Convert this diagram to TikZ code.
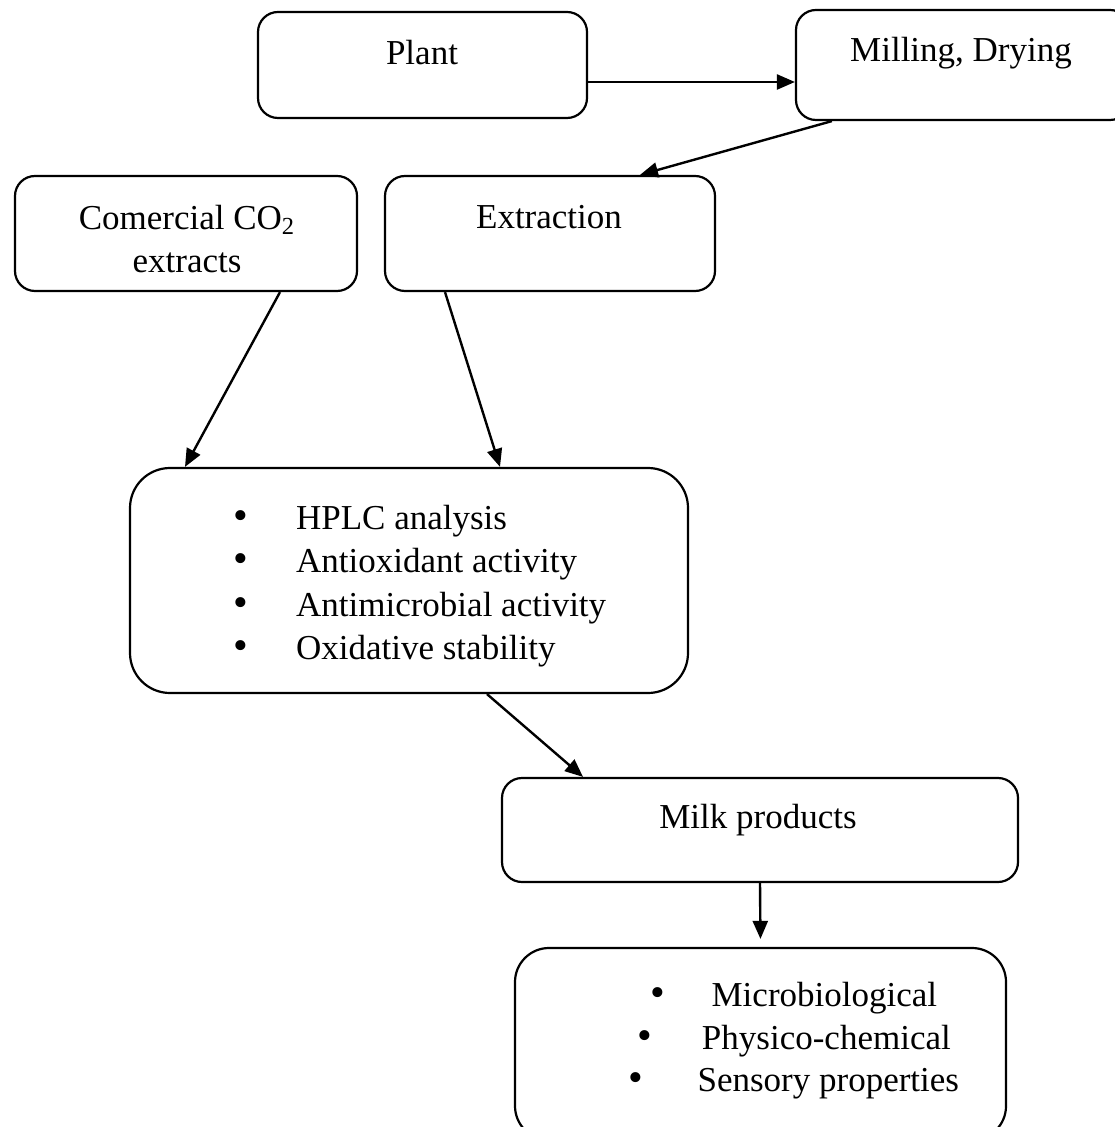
\documentclass[tikz,border=0pt]{standalone}
\usepackage{fontspec}
\setmainfont{Liberation Serif}
\usetikzlibrary{positioning,arrows.meta}

\newcommand{\bigbul}{{\fontsize{21}{21}\selectfont\textbullet}}

\begin{document}
\begin{tikzpicture}[x=0.5pt,y=-0.5pt,>={Triangle[length=9pt,width=7.5pt]}]
	\tikzstyle{every node}=[font=\fontsize{17.5}{21.5}\selectfont,inner sep=0pt]
	\tikzstyle{box}=[draw,line width=1.1pt,rounded corners=10pt]
	\tikzstyle{arr}=[->,line width=1.2pt]
	\useasboundingbox (0,0) rectangle (1114,1127);
	% boxes
	\node[box,minimum width=164.5pt,minimum height=53pt] (plant) at (422.5,65) {};
	\node[box,minimum width=167pt,minimum height=55pt] (mill) at (963,65) {};
	\node[box,minimum width=171pt,minimum height=57.5pt] (co2) at (186,233.5) {};
	\node[box,minimum width=165pt,minimum height=57.5pt] (extr) at (550,233.5) {};
	\node[box,rounded corners=20pt,minimum width=279pt,minimum height=112.5pt] (anal) at (409,580.5) {};
	\node[box,minimum width=258pt,minimum height=52pt] (milk) at (760,830) {};
	\node[box,rounded corners=17pt,minimum width=245.5pt,minimum height=96pt] (tests) at (760.5,1044) {};
	% texts
	\node (plantlbl) at (422,53) {Plant};
	\node (milllbl) at (961,53) {Milling, Drying};
	\node[align=center] (co2lbl) at (187,239) {Comercial CO\textsubscript{2}\\extracts};
	\node (extrlbl) at (549,217) {Extraction};
	\node[align=left,anchor=west,font=\fontsize{17.5}{21.7}\selectfont] (anallbl) at (233,586) {%
		\bigbul\hspace{24pt}HPLC analysis\\
		\bigbul\hspace{24pt}Antioxidant activity\\
		\bigbul\hspace{24pt}Antimicrobial activity\\
		\bigbul\hspace{24pt}Oxidative stability};
	\node (milklbl) at (758,820) {Milk products};
	\node[align=center,font=\fontsize{17.5}{21.3}\selectfont] (testslbl) at (794,1041) {%
		\bigbul\hspace{23pt}Microbiological\\
		\bigbul\hspace{25pt}Physico-chemical\\
		\bigbul\hspace{27pt}Sensory properties};
	% arrows
	\draw[arr] ([yshift=-8.5pt]plant.east) -- ([yshift=-8.5pt]mill.west);
	\draw[arr] ([xshift=18.5pt]mill.south west) -- ([xshift=45pt]extr.north);
	\draw[arr] ([xshift=47pt]co2.south) -- ([xshift=-112pt]anal.north);
	\draw[arr] ([xshift=-52.5pt]extr.south) -- ([xshift=45.5pt]anal.north);
	\draw[arr] ([xshift=39pt]anal.south) -- ([xshift=-88.5pt]milk.north);
	\draw[arr,shorten >=4pt] (milk.south) -- (tests.north);
\end{tikzpicture}
\end{document}
